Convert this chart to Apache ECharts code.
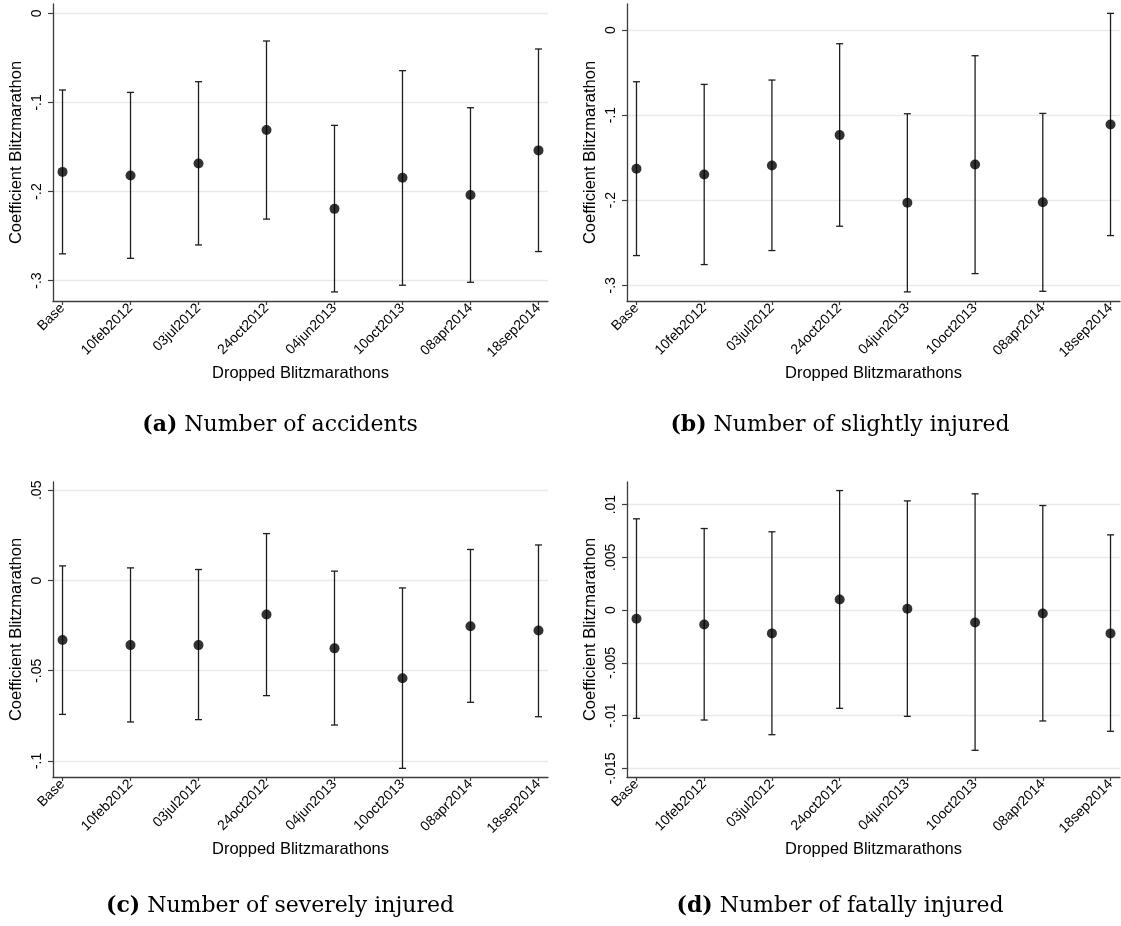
<!DOCTYPE html>
<html><head><meta charset="utf-8">
<script src="https://cdn.jsdelivr.net/npm/echarts@6/dist/echarts.min.js"></script>
<style>html,body{margin:0;padding:0;background:#fff}#c{width:1121px;height:926px}</style>
</head><body><div id="c"></div>
<script>
const categories = ['Base','10feb2012','03jul2012','24oct2012','04jun2013','10oct2013','08apr2014','18sep2014'];

const accidentsCoef = [-0.178,-0.182,-0.1685,-0.131,-0.2195,-0.1846,-0.204,-0.1539];
const accidentsLow  = [-0.270,-0.275,-0.260,-0.231,-0.3127,-0.3052,-0.3019,-0.2674];
const accidentsHigh = [-0.0861,-0.0888,-0.0768,-0.0311,-0.1258,-0.0644,-0.106,-0.0401];

const slightCoef = [-0.1631,-0.1698,-0.1592,-0.1235,-0.2031,-0.158,-0.2024,-0.111];
const slightLow  = [-0.2651,-0.2757,-0.2592,-0.2306,-0.3078,-0.2863,-0.3071,-0.2416];
const slightHigh = [-0.0608,-0.0639,-0.0588,-0.0161,-0.0984,-0.0302,-0.098,0.0196];

const severeCoef = [-0.033,-0.0358,-0.0358,-0.0188,-0.0376,-0.0542,-0.0253,-0.0277];
const severeLow  = [-0.0742,-0.0784,-0.0771,-0.0638,-0.0801,-0.1041,-0.0675,-0.0755];
const severeHigh = [0.0081,0.0070,0.0061,0.026,0.0052,-0.0041,0.0172,0.0197];

const fatalCoef = [-0.00082,-0.00136,-0.00221,0.00101,0.00013,-0.00117,-0.00032,-0.00221];
const fatalLow  = [-0.01026,-0.01042,-0.01181,-0.00931,-0.01007,-0.01329,-0.01051,-0.01149];
const fatalHigh = [0.00865,0.00773,0.00742,0.01133,0.01035,0.01102,0.00991,0.00713];

const accidentsTicks = [-0.3,-0.2,-0.1,0];
const slightTicks = [-0.3,-0.2,-0.1,0];
const severeTicks = [-0.1,-0.05,0,0.05];
const fatalTicks = [-0.015,-0.01,-0.005,0,0.005,0.01];

const captions = ['(a)|Number of accidents','(b)|Number of slightly injured','(c)|Number of severely injured','(d)|Number of fatally injured'];
const yTitle = 'Coefficient Blitzmarathon';
const xTitle = 'Dropped Blitzmarathons';

const xPositions = categories.map((c, i) => i + 1);
const SANS = 'Liberation Sans';
const AXC = '#3c3c3c';

const panels = [
  {coef: accidentsCoef, low: accidentsLow, high: accidentsHigh, ticks: accidentsTicks, min: -0.3229, max: 0.0104, split: 3,
   grid: {left: 53, top: 4, width: 495, height: 297}},
  {coef: slightCoef, low: slightLow, high: slightHigh, ticks: slightTicks, min: -0.3185, max: 0.0306, split: 3,
   grid: {left: 627, top: 4, width: 493, height: 297}},
  {coef: severeCoef, low: severeLow, high: severeHigh, ticks: severeTicks, min: -0.1089, max: 0.0546, split: 3,
   grid: {left: 53, top: 482, width: 495, height: 295}},
  {coef: fatalCoef, low: fatalLow, high: fatalHigh, ticks: fatalTicks, min: -0.01582, max: 0.01214, split: 5,
   grid: {left: 627, top: 482, width: 493, height: 295}}
];

function fmtY(v) {
  const s = String(Number(Number(v).toFixed(5)));
  return s.replace(/^(-?)0\./, '$1.');
}

function renderErr(params, api) {
  const x = api.value(0);
  const lo = api.coord([x, api.value(1)]);
  const hi = api.coord([x, api.value(2)]);
  const w = 3.5;
  const style = {stroke: '#1e1e1e', lineWidth: 1.3};
  return {type: 'group', children: [
    {type: 'line', shape: {x1: lo[0], y1: lo[1], x2: hi[0], y2: hi[1]}, style: style},
    {type: 'line', shape: {x1: lo[0] - w, y1: lo[1], x2: lo[0] + w, y2: lo[1]}, style: style},
    {type: 'line', shape: {x1: hi[0] - w, y1: hi[1], x2: hi[0] + w, y2: hi[1]}, style: style}
  ]};
}

const grids = [], xAxes = [], yAxes = [], series = [];
panels.forEach((p, k) => {
  grids.push(Object.assign({containLabel: false}, p.grid));
  xAxes.push({
    type: 'value', gridIndex: k, min: 0.86, max: 8.14, interval: 1,
    axisLine: {show: true, onZero: false, lineStyle: {color: AXC, width: 1.3}},
    axisTick: {show: true, length: 4, customValues: xPositions, lineStyle: {color: AXC, width: 1.2}},
    axisLabel: {customValues: xPositions, showMinLabel: true, showMaxLabel: true, rotate: 45, margin: 5, fontSize: 14, fontFamily: SANS, color: '#000',
      formatter: v => categories[Math.round(v) - 1] || ''},
    splitLine: {show: false},
    name: xTitle, nameLocation: 'middle', nameGap: 64,
    nameTextStyle: {fontSize: 16.5, fontFamily: SANS, color: '#000'}
  });
  yAxes.push({
    type: 'value', gridIndex: k, min: p.min, max: p.max, splitNumber: p.split,
    axisLine: {show: true, onZero: false, lineStyle: {color: AXC, width: 1.3}},
    axisTick: {show: true, length: 5, customValues: p.ticks, lineStyle: {color: AXC, width: 1.2}},
    axisLabel: {customValues: p.ticks, rotate: 90, margin: 9, fontSize: 14, fontFamily: SANS, color: '#000', formatter: fmtY},
    splitLine: {show: true, lineStyle: {color: '#e9e9e9', width: 1.3}},
    name: yTitle, nameLocation: 'middle', nameGap: 28, nameRotate: 90,
    nameTextStyle: {fontSize: 16.5, fontFamily: SANS, color: '#000'}
  });
  series.push({
    type: 'custom', xAxisIndex: k, yAxisIndex: k, renderItem: renderErr, clip: false,
    encode: {x: 0, y: [1, 2]}, silent: true,
    data: xPositions.map((x, i) => [x, p.low[i], p.high[i]])
  });
  series.push({
    type: 'scatter', xAxisIndex: k, yAxisIndex: k, symbol: 'circle', symbolSize: 10, z: 5, silent: true,
    itemStyle: {color: '#000'},
    data: xPositions.map((x, i) => [x, p.coef[i]])
  });
});

const capPos = [[280, 425], [840, 425], [280, 906], [840, 906]];
const graphic = captions.map((c, k) => {
  const parts = c.split('|');
  return {type: 'text', x: capPos[k][0], y: capPos[k][1], silent: true,
    style: {text: '{b|' + parts[0] + '}{n| ' + parts[1] + '}', align: 'center', verticalAlign: 'middle', fill: '#000',
      rich: {b: {fontWeight: 'bold', fontSize: 22, fontFamily: 'DejaVu Serif'}, n: {fontSize: 22, fontFamily: 'DejaVu Serif'}}}};
});

const chart = echarts.init(document.getElementById('c'), null, {renderer: 'canvas'});
chart.setOption({animation: false, backgroundColor: '#fff', grid: grids, xAxis: xAxes, yAxis: yAxes, series: series, graphic: graphic});
</script></body></html>
